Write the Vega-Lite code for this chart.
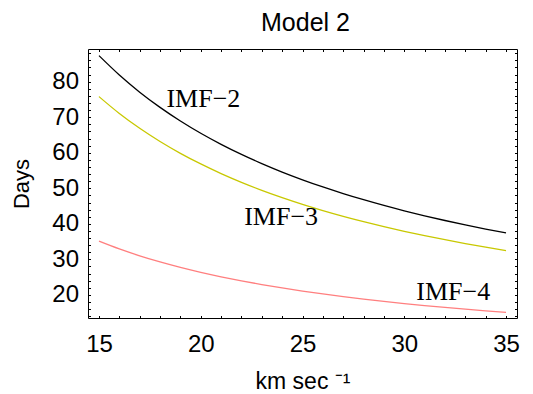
{
  "$schema": "https://vega.github.io/schema/vega-lite/v6.json",
  "width": 429,
  "height": 269,
  "autosize": {"type": "none"},
  "padding": {"left": 88, "top": 49, "right": 16, "bottom": 76},
  "background": "white",
  "config": {
    "view": {"stroke": "black", "strokeWidth": 1},
    "axis": {"grid": false, "domain": false, "tickColor": "black", "tickSize": -2.5, "tickWidth": 1, "labelFont": "Liberation Sans", "titleFont": "Liberation Sans", "labelColor": "black", "titleColor": "black", "labelOverlap": false, "labelFlush": false, "titleFontWeight": "normal"}
  },
  "title": {"text": "Model 2", "font": "Liberation Sans", "fontSize": 25, "fontWeight": "normal", "color": "black", "offset": 5, "dx": 3},
  "layer": [
    {
      "data": {"values": [
        {"x": 15, "y": 87.33, "series": "IMF-2"}, {"x": 16, "y": 81.88, "series": "IMF-2"}, {"x": 17, "y": 77.06, "series": "IMF-2"}, {"x": 18, "y": 72.78, "series": "IMF-2"}, {"x": 19, "y": 68.95, "series": "IMF-2"}, {"x": 20, "y": 65.5, "series": "IMF-2"}, {"x": 21, "y": 62.38, "series": "IMF-2"}, {"x": 22, "y": 59.55, "series": "IMF-2"}, {"x": 23, "y": 56.96, "series": "IMF-2"}, {"x": 24, "y": 54.58, "series": "IMF-2"}, {"x": 25, "y": 52.4, "series": "IMF-2"}, {"x": 26, "y": 50.38, "series": "IMF-2"}, {"x": 27, "y": 48.52, "series": "IMF-2"}, {"x": 28, "y": 46.79, "series": "IMF-2"}, {"x": 29, "y": 45.17, "series": "IMF-2"}, {"x": 30, "y": 43.67, "series": "IMF-2"}, {"x": 31, "y": 42.26, "series": "IMF-2"}, {"x": 32, "y": 40.94, "series": "IMF-2"}, {"x": 33, "y": 39.7, "series": "IMF-2"}, {"x": 34, "y": 38.53, "series": "IMF-2"}, {"x": 35, "y": 37.43, "series": "IMF-2"},
        {"x": 15, "y": 75.8, "series": "IMF-3"}, {"x": 16, "y": 71.06, "series": "IMF-3"}, {"x": 17, "y": 66.88, "series": "IMF-3"}, {"x": 18, "y": 63.17, "series": "IMF-3"}, {"x": 19, "y": 59.84, "series": "IMF-3"}, {"x": 20, "y": 56.85, "series": "IMF-3"}, {"x": 21, "y": 54.14, "series": "IMF-3"}, {"x": 22, "y": 51.68, "series": "IMF-3"}, {"x": 23, "y": 49.43, "series": "IMF-3"}, {"x": 24, "y": 47.38, "series": "IMF-3"}, {"x": 25, "y": 45.48, "series": "IMF-3"}, {"x": 26, "y": 43.73, "series": "IMF-3"}, {"x": 27, "y": 42.11, "series": "IMF-3"}, {"x": 28, "y": 40.61, "series": "IMF-3"}, {"x": 29, "y": 39.21, "series": "IMF-3"}, {"x": 30, "y": 37.9, "series": "IMF-3"}, {"x": 31, "y": 36.68, "series": "IMF-3"}, {"x": 32, "y": 35.53, "series": "IMF-3"}, {"x": 33, "y": 34.45, "series": "IMF-3"}, {"x": 34, "y": 33.44, "series": "IMF-3"}, {"x": 35, "y": 32.49, "series": "IMF-3"},
        {"x": 15, "y": 35.13, "series": "IMF-4"}, {"x": 16, "y": 32.94, "series": "IMF-4"}, {"x": 17, "y": 31.0, "series": "IMF-4"}, {"x": 18, "y": 29.28, "series": "IMF-4"}, {"x": 19, "y": 27.74, "series": "IMF-4"}, {"x": 20, "y": 26.35, "series": "IMF-4"}, {"x": 21, "y": 25.1, "series": "IMF-4"}, {"x": 22, "y": 23.95, "series": "IMF-4"}, {"x": 23, "y": 22.91, "series": "IMF-4"}, {"x": 24, "y": 21.96, "series": "IMF-4"}, {"x": 25, "y": 21.08, "series": "IMF-4"}, {"x": 26, "y": 20.27, "series": "IMF-4"}, {"x": 27, "y": 19.52, "series": "IMF-4"}, {"x": 28, "y": 18.82, "series": "IMF-4"}, {"x": 29, "y": 18.17, "series": "IMF-4"}, {"x": 30, "y": 17.57, "series": "IMF-4"}, {"x": 31, "y": 17.0, "series": "IMF-4"}, {"x": 32, "y": 16.47, "series": "IMF-4"}, {"x": 33, "y": 15.97, "series": "IMF-4"}, {"x": 34, "y": 15.5, "series": "IMF-4"}, {"x": 35, "y": 15.06, "series": "IMF-4"}
      ]},
      "mark": {"type": "line", "strokeWidth": 1.3, "interpolate": "monotone"},
      "encoding": {
        "x": {"field": "x", "type": "quantitative", "scale": {"domain": [14.46, 35.54], "nice": false, "zero": false},
          "axis": {"orient": "bottom", "values": [15,16,17,18,19,20,21,22,23,24,25,26,27,28,29,30,31,32,33,34,35], "labelExpr": "datum.value % 5 === 0 ? datum.label : ''", "labelFontSize": 24, "labelPadding": 17, "title": "km  sec ⁻¹", "titleFontSize": 23, "titleY": 70, "titleBaseline": "alphabetic",
            "encode": {"ticks": {"update": {"y2": {"signal": "datum.value % 5 === 0 ? -5 : -2.5"}}}}}},
        "y": {"field": "y", "type": "quantitative", "scale": {"domain": [13.5, 89.2], "nice": false, "zero": false},
          "axis": {"orient": "left", "values": [14,16,18,20,22,24,26,28,30,32,34,36,38,40,42,44,46,48,50,52,54,56,58,60,62,64,66,68,70,72,74,76,78,80,82,84,86,88], "labelExpr": "datum.value % 10 === 0 ? datum.label : ''", "labelFontSize": 24, "labelPadding": 12, "title": "Days", "titleFontSize": 22, "titleX": -60, "titleBaseline": "alphabetic",
            "encode": {"ticks": {"update": {"x2": {"signal": "datum.value % 10 === 0 ? 5 : 2.5"}}}}}},
        "color": {"field": "series", "type": "nominal", "scale": {"domain": ["IMF-2", "IMF-3", "IMF-4"], "range": ["#000000", "#c8c800", "#ff7f7f"]}, "legend": null}
      }
    },
    {
      "data": {"values": [
        {"x": 20.13, "y": 72.8, "label": "IMF−2"},
        {"x": 23.95, "y": 39.7, "label": "IMF−3"},
        {"x": 32.41, "y": 18.6, "label": "IMF−4"}
      ]},
      "mark": {"type": "text", "font": "Liberation Serif", "fontSize": 26, "baseline": "alphabetic", "align": "center", "color": "black"},
      "encoding": {
        "x": {"field": "x", "type": "quantitative", "scale": {"domain": [14.46, 35.54], "nice": false, "zero": false},
          "axis": {"orient": "top", "values": [15,16,17,18,19,20,21,22,23,24,25,26,27,28,29,30,31,32,33,34,35], "labels": false, "title": null,
            "encode": {"ticks": {"update": {"y2": {"signal": "datum.value % 5 === 0 ? 5 : 2.5"}}}}}},
        "y": {"field": "y", "type": "quantitative", "scale": {"domain": [13.5, 89.2], "nice": false, "zero": false},
          "axis": {"orient": "right", "values": [14,16,18,20,22,24,26,28,30,32,34,36,38,40,42,44,46,48,50,52,54,56,58,60,62,64,66,68,70,72,74,76,78,80,82,84,86,88], "labels": false, "title": null,
            "encode": {"ticks": {"update": {"x2": {"signal": "datum.value % 10 === 0 ? -5 : -2.5"}}}}}},
        "text": {"field": "label", "type": "nominal"}
      }
    }
  ],
  "resolve": {"axis": {"x": "independent", "y": "independent"}}
}
